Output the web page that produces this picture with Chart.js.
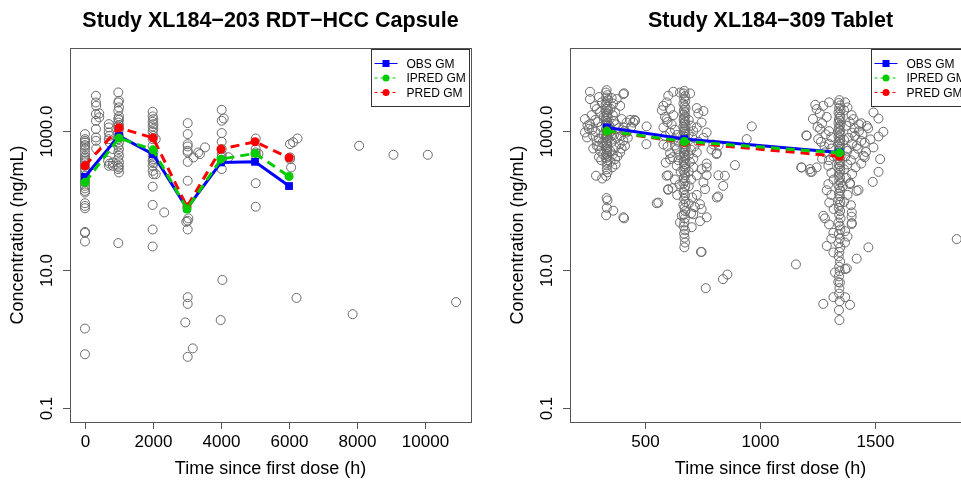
<!DOCTYPE html>
<html>
<head>
<meta charset="utf-8">
<title>XL184 concentration vs time since first dose</title>
<script src="https://cdn.jsdelivr.net/npm/chart.js@4.4.0/dist/chart.umd.min.js"></script>
<style>
  html, body { margin: 0; padding: 0; background: #fff; width: 961px; height: 480px; overflow: hidden; }
  .panel { position: absolute; top: 0; }
</style>
</head>
<body>
<div class="panel" style="left:0"><canvas id="capsule" width="480" height="480"></canvas></div>
<div class="panel" style="left:480px"><canvas id="tablet" width="501" height="480"></canvas></div>
<script>
// ---- data: [time (h), concentration (ng/mL)] ----

// Study XL184-203 RDT-HCC capsule, observed
const capObs = [
  [0,906],[0,766],[0,725],[0,686],[0,628],[0,601],[0,550],[0,492],[0,441],[0,417],[0,394],[0,373],[0,353],[0,316],
  [0,283],[0,253],[0,227],[0,203],[0,182],[0,162],[0,149],[0,137],[0,130],[0,91],[0,83],[0,77],[0,35],[0,34],[0,25.5],
  [0,1.41],[0,0.6],
  [323,3240],[323,2590],[330,2320],[323,1760],[323,1410],[323,1070],[323,810],[323,725],[420,1800],[420,1580],[330,560],
  [700,1262],[700,1130],[700,955],[720,855],[700,766],[720,686],[680,373],[720,340],[700,316],
  [980,3620],[1000,2740],[980,2590],[1000,2200],[980,1960],[1000,1630],[980,1520],[1000,1450],[980,1330],[1000,1220],
  [980,1170],[1000,1070],[980,955],[1000,855],[980,766],[1000,686],[980,614],[1000,550],[980,492],[1000,441],
  [980,394],[1000,353],[980,316],[1000,299],[980,283],[1000,253],[980,24.2],[820,550],[820,353],[820,316],
  [1990,1900],[1990,1630],[2010,1490],[1990,1360],[2010,1262],[1990,1170],[2010,1070],[1990,977],[2010,855],[1990,766],
  [1990,614],[2010,492],[1990,441],[2010,394],[1990,373],[2010,345],[1990,316],[1990,267],[2010,239],[1990,158],
  [1990,86],[1990,38],[1990,21.6],[2080,766],[2080,239],[2330,67],
  [3020,1305],[3020,906],[3020,649],[3020,601],[3020,520],[3020,492],[3020,360],[3020,192],[3020,50.7],[3020,38],
  [3040,55],[2980,49],[2950,1.73],[3020,4.0],[3020,3.2],[3020,0.55],[3170,0.73],[3190,417],[3330,492],[3380,466],[3530,582],
  [4020,2030],[4080,1520],[4020,1410],[4020,936],[4020,702],[4020,550],[4020,466],[4020,417],[4020,385],[4020,283],
  [4220,420],[4040,7.1],[3990,1.87],
  [5020,783],[5020,550],[5020,492],[5020,450],[5020,177],[5020,81],[5100,470],
  [6250,783],[6120,690],[6030,649],[6030,417],[6030,394],[6060,299],[6220,3.9],
  [8060,614],[9070,455],[10080,455],[7870,2.27],[10910,3.4]
];

// Study XL184-203 geometric means
const capGmTime  = [0, 1000, 2000, 3000, 4000, 5000, 6000];
const capObsGm   = [219, 855, 465, 77, 353, 360, 161];
const capIpredGm = [182, 793, 537, 75, 394, 477, 222];
const capPredGm  = [316, 1117, 800, 81, 550, 702, 412];

// Study XL184-309 tablet, observed
const tabObs = [
  // around 336 h
  [333,3900],[330,3600],[336,3300],[331,3050],[338,2800],[333,2600],[329,2400],[336,2250],[332,2100],[339,1980],
  [330,1870],[335,1760],[333,1660],[338,1570],[329,1480],[334,1400],[337,1330],[331,1260],[335,1190],[339,1130],
  [330,1070],[334,1010],[337,960],[332,910],[336,860],[330,820],[334,780],[338,740],[331,700],[335,665],
  [333,630],[337,595],[330,560],[334,530],[336,500],[332,470],[335,440],[331,410],[337,380],[333,350],
  [335,320],[334,280],[337,255],[331,225],[333,108],[337,100],[334,78],[331,61],
  [261,3700],[261,2900],[290,2080],[239,1490],[261,1262],[239,955],[275,855],[290,614],[250,1200],[268,1700],
  [282,2300],[300,3100],[305,1900],[270,1050],[285,980],[295,1350],[310,1150],[300,780],[315,680],[290,720],
  [275,560],[305,520],[318,460],[300,420],[310,380],[320,900],[312,2600],[320,1600],[284,1450],[256,1080],
  [248,810],[298,610],
  [406,3420],[377,2900],[392,2320],[370,1860],[399,1490],[435,1450],[420,1330],[449,1330],[406,1130],[420,955],
  [406,725],[413,614],[392,492],[370,394],[355,3000],[362,2500],[350,2100],[360,1700],[375,1250],[385,1100],
  [350,1000],[365,880],[378,800],[355,700],[390,650],[370,580],[348,520],[360,460],[380,430],[395,850],
  [410,1000],[425,800],[440,1150],[455,1450],[365,1400],[345,1200],[352,860],[398,560],[372,330],[350,360],
  [358,300],[409,3510],[457,1410],
  [287,227],[314,207],[362,71],[406,57],[409,55],
  // around 672 h
  [671,3800],[668,3500],[674,3200],[670,2950],[675,2700],[667,2500],[672,2300],[676,2150],[669,2000],[673,1870],
  [667,1750],[675,1640],[671,1540],[668,1450],[674,1370],[670,1290],[676,1220],[667,1150],[672,1090],[675,1030],
  [669,975],[673,920],[667,870],[675,820],[671,775],[668,730],[674,690],[670,650],[676,615],[667,580],
  [672,545],[675,515],[669,485],[673,455],[667,430],[675,405],[671,380],[668,355],[674,330],[670,310],
  [676,290],[667,270],[672,250],[675,230],[669,210],[673,190],[667,175],[675,160],[671,145],[668,130],
  [674,118],[670,105],[676,95],[667,86],[672,78],[675,70],[669,62],[673,55],[671,48],[668,42],
  [674,37],[670,33],[672,29],[671,21],
  [601,3240],[623,3700],[652,3600],[696,3500],[580,2320],[573,2000],[594,2600],[609,2100],[594,1490],[623,1700],
  [580,1130],[609,955],[616,1250],[580,640],[638,550],[609,480],[609,394],[638,316],[601,230],[601,145],
  [558,93],[725,2150],[732,1800],[754,1950],[746,1330],[725,1130],[768,955],[754,800],[732,700],[725,492],
  [768,340],[746,283],[725,230],[754,182],[761,145],[725,120],[717,80],[746,75],[768,57],[739,50],
  [703,41],[652,48],[660,60],[674,24.6],[746,18],[812,110],[819,230],[812,480],[797,640],[820,620],
  [587,1600],[598,1350],[630,1050],[640,880],[587,850],[625,760],[645,700],[598,600],[630,620],[650,450],
  [620,420],[645,380],[590,350],[655,260],[630,200],[650,170],[620,150],[640,120],[690,1450],[700,1200],
  [710,1000],[690,900],[705,820],[715,600],[700,540],[690,450],[710,400],[695,360],[710,300],[690,260],
  [700,200],[690,160],[705,110],[690,90],[700,65],
  // between visits
  [507,1170],[506,649],[551,91],[594,227],[600,142],[743,18],[764,5.4],[839,7.3],[858,8.5],[818,114],
  [840,162],[847,227],[891,323],[942,766],[964,1170],[811,466],[789,540],[768,299],[768,232],[739,88],
  [710,63],[1156,11.9],[1855,27.6],
  // around 1344 h
  [1345,2800],[1342,2550],[1348,2350],[1344,2150],[1350,2000],[1341,1850],[1346,1720],[1349,1600],[1343,1500],[1347,1400],
  [1341,1310],[1349,1230],[1345,1150],[1342,1080],[1348,1010],[1344,950],[1350,890],[1341,840],[1346,790],[1349,740],
  [1343,700],[1347,660],[1341,620],[1349,585],[1345,550],[1342,520],[1348,490],[1344,460],[1350,430],[1341,405],
  [1346,380],[1349,355],[1343,330],[1347,310],[1341,290],[1349,270],[1345,250],[1342,230],[1348,212],[1344,195],
  [1350,180],[1341,165],[1346,150],[1349,138],[1343,126],[1347,115],[1341,104],[1349,95],[1345,86],[1342,78],
  [1348,70],[1344,62],[1350,55],[1341,48],[1346,43],[1349,38],[1343,33],[1347,28],[1341,24],[1349,21],
  [1345,18],[1342,15.5],[1348,13],[1344,11],[1346,9.5],[1343,8],[1347,6.5],[1345,5.4],[1344,4.5],[1346,3.5],
  [1343,2.6],[1345,1.87],
  [1181,299],[1217,283],[1246,299],[1253,766],[1261,1070],[1246,2080],[1275,2320],[1203,855],[1282,492],[1297,316],
  [1297,172],[1301,93],[1275,60],[1282,55],[1319,34],[1319,17.7],[1326,9.1],[1340,6.6],[1319,4.0],[1275,3.2],
  [1225,258],[1179,299],[1219,258],[1201,870],[1240,2400],[1260,1800],[1230,1500],[1290,1600],[1300,2600],[1270,1300],
  [1250,1150],[1300,1000],[1285,900],[1310,820],[1265,700],[1300,650],[1280,600],[1310,560],[1320,430],[1300,380],
  [1270,400],[1310,250],[1320,200],[1290,140],[1310,120],[1320,75],[1300,45],[1310,28],[1290,22],
  [1493,1860],[1515,1520],[1536,977],[1515,837],[1464,1190],[1493,582],[1522,394],[1515,258],[1490,185],[1428,141],
  [1391,178],[1399,67],[1399,47],[1471,21],[1420,14.4],[1370,10.2],[1370,4.0],[1391,3.1],[1398,45.5],
  [1398,58],[1369,24.6],[1377,10.4],[1420,137],[1391,172],[1406,1490],[1398,1700],[1413,855],[1420,614],[1377,555],
  [1370,2600],[1380,2200],[1365,2000],[1390,1350],[1375,1200],[1410,1100],[1430,1000],[1445,900],[1400,950],[1385,800],
  [1365,750],[1440,720],[1455,680],[1400,650],[1425,560],[1380,520],[1460,500],[1410,460],[1370,430],[1395,380],
  [1440,340],[1380,330],[1415,300],[1365,280],[1400,240],[1375,210],[1440,1300],[1470,1100],[1480,760],[1450,440],
  [1430,1250],[1455,420],[1360,160],[1380,120],[1365,95],[1395,85],[1370,36],[1380,30]
];

// Study XL184-309 geometric means
const tabGmTime  = [334, 671, 1345];
const tabObsGm   = [1130, 767, 492];
const tabIpredGm = [1000, 709, 486];
const tabPredGm  = [1000, 687, 432];

// axis ticks
const concTicks = [0.1, 10, 1000];
const concTickLabels = ['0.1', '10.0', '1000.0'];
const capTimeTicks = [0, 2000, 4000, 6000, 8000, 10000];
const tabTimeTicks = [500, 1000, 1500];
const legendLabels = ['OBS GM', 'IPRED GM', 'PRED GM'];

const FONT = '"Liberation Sans", Arial, sans-serif';
const BLUE = '#0000ff', GREEN = '#00cd00', RED = '#ff0000';

// draws the R-style frame, axes, titles and legend
const rFrame = {
  id: 'rFrame',
  afterDraw(chart, args, o) {
    const ctx = chart.ctx, a = chart.chartArea;
    const sx = chart.scales.x, sy = chart.scales.y;
    ctx.save();
    ctx.strokeStyle = '#555';
    ctx.lineWidth = 1;
    ctx.strokeRect(Math.round(a.left) + 0.5, Math.round(a.top) + 0.5, Math.round(a.right - a.left), Math.round(a.bottom - a.top));

    ctx.fillStyle = '#000';
    ctx.font = '17px ' + FONT;
    ctx.textAlign = 'center';
    ctx.textBaseline = 'middle';
    o.xTicks.forEach(v => {
      const px = Math.round(sx.getPixelForValue(v)) + 0.5;
      ctx.beginPath(); ctx.moveTo(px, a.bottom); ctx.lineTo(px, a.bottom + 7); ctx.stroke();
      ctx.fillText(String(v), px, a.bottom + 20);
    });
    concTicks.forEach((v, i) => {
      const py = Math.round(sy.getPixelForValue(v)) + 0.5;
      ctx.beginPath(); ctx.moveTo(a.left, py); ctx.lineTo(a.left - 7, py); ctx.stroke();
      ctx.save();
      ctx.translate(a.left - 23, py);
      ctx.rotate(-Math.PI / 2);
      ctx.fillText(concTickLabels[i], 0, 0);
      ctx.restore();
    });

    // axis titles
    ctx.font = '18px ' + FONT;
    ctx.fillText('Time since first dose (h)', (a.left + a.right) / 2, a.bottom + 47);
    ctx.save();
    ctx.translate(a.left - 52, (a.top + a.bottom) / 2);
    ctx.rotate(-Math.PI / 2);
    ctx.fillText('Concentration (ng/mL)', 0, 0);
    ctx.restore();

    // main title
    ctx.font = 'bold 21.5px ' + FONT;
    ctx.fillText(o.title, (a.left + a.right) / 2, 21);

    // legend
    const bx = Math.round(a.right) - 99.5, by = Math.round(a.top) + 1.5, bw = 98, bh = 57;
    ctx.fillStyle = '#fff';
    ctx.fillRect(bx, by, bw, bh);
    ctx.strokeStyle = '#333';
    ctx.strokeRect(bx, by, bw, bh);
    const cols = [BLUE, GREEN, RED];
    ctx.font = '12px ' + FONT;
    ctx.textAlign = 'left';
    legendLabels.forEach((lab, i) => {
      const ly = by + 14 + i * 14.5;
      ctx.strokeStyle = cols[i];
      ctx.lineWidth = 1;
      ctx.setLineDash(i === 0 ? [] : [3, 3]);
      ctx.beginPath(); ctx.moveTo(bx + 3, ly); ctx.lineTo(bx + 26, ly); ctx.stroke();
      ctx.setLineDash([]);
      ctx.fillStyle = cols[i];
      ctx.beginPath();
      if (i === 0) ctx.rect(bx + 11, ly - 3.5, 7, 7);
      else ctx.arc(bx + 14.5, ly, 3.5, 0, Math.PI * 2);
      ctx.fill();
      ctx.fillStyle = '#000';
      ctx.fillText(lab, bx + 35, ly + 1);
    });
    ctx.restore();
  }
};

function gmSet(times, vals, color, style, dashed, order) {
  return {
    data: times.map((t, i) => ({ x: t, y: vals[i] })),
    showLine: true,
    borderColor: color,
    backgroundColor: color,
    borderWidth: 3,
    borderDash: dashed ? [9, 6] : [],
    pointStyle: style,
    pointRadius: style === 'rect' ? 5.5 : 4.5,
    pointBorderWidth: 0,
    order: order
  };
}

function makeChart(id, obs, gmT, obsGm, ipredGm, predGm, xmin, xmax, xTicks, title, padRight, padLeft) {
  return new Chart(document.getElementById(id), {
    type: 'scatter',
    data: {
      datasets: [
        {
          data: obs.map(p => ({ x: p[0], y: p[1] })),
          pointStyle: 'circle',
          pointRadius: 4.5,
          borderColor: '#6a6a6a',
          backgroundColor: 'rgba(0,0,0,0)',
          borderWidth: 1,
          order: 4
        },
        gmSet(gmT, obsGm, BLUE, 'rect', false, 3),
        gmSet(gmT, predGm, RED, 'circle', true, 2),
        gmSet(gmT, ipredGm, GREEN, 'circle', true, 1)
      ]
    },
    options: {
      responsive: false,
      animation: false,
      layout: { padding: { left: padLeft, top: 48, right: padRight, bottom: 58 } },
      scales: {
        x: { type: 'linear', display: false, min: xmin, max: xmax },
        y: { type: 'logarithmic', display: false, min: Math.pow(10, -1.2), max: Math.pow(10, 4.2) }
      },
      plugins: {
        legend: { display: false },
        tooltip: { enabled: false },
        rFrame: { title: title, xTicks: xTicks }
      }
    },
    plugins: [rFrame]
  });
}

makeChart('capsule', capObs, capGmTime, capObsGm, capIpredGm, capPredGm,
  -440, 11350, capTimeTicks, 'Study XL184\u2212203 RDT\u2212HCC Capsule', 9, 70);
makeChart('tablet', tabObs, tabGmTime, tabObsGm, tabIpredGm, tabPredGm,
  174, 1917, tabTimeTicks, 'Study XL184\u2212309 Tablet', 10, 90);
</script>
</body>
</html>
